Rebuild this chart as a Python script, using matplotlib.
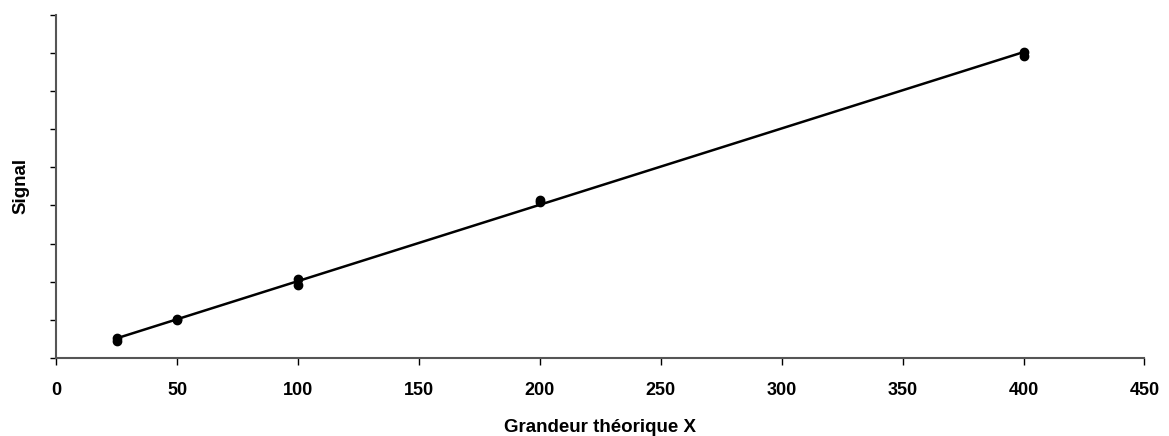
import numpy as np
from matplotlib import pyplot as plt

# Replicate measurements (arbitrary signal units)
x_vals = [25, 25, 50, 50, 100, 100, 200, 200, 400, 400]
signal = [0.45, 0.52, 0.99, 1.03, 1.92, 2.06, 4.10, 4.14, 7.93, 8.03]

x_ticks = [0, 50, 100, 150, 200, 250, 300, 350, 400, 450]
y_ticks = list(range(0, 10))


def main():
    plt.rcParams["font.family"] = ["Liberation Sans", "DejaVu Sans"]
    fig = plt.figure(figsize=(11.69, 4.36), dpi=100)
    ax = fig.add_axes([0.048, 0.179, 0.931, 0.787])

    # Linear trend line over the measured range
    coef = np.polyfit(x_vals, signal, 1)
    xs = np.array([min(x_vals), max(x_vals)])
    ax.plot(xs, np.polyval(coef, xs), color="black", linewidth=1.8, zorder=2)

    ax.plot(x_vals, signal, "o", color="black", markersize=6, zorder=3)

    ax.set_xlim(0, 450)
    ax.set_ylim(0, 9)
    ax.set_xticks(x_ticks)
    ax.set_yticks(y_ticks)
    ax.set_yticklabels([])
    ax.tick_params(axis="x", direction="out", length=5, width=1, labelsize=13, pad=12)
    ax.tick_params(axis="y", direction="out", length=4, width=1)
    for lbl in ax.get_xticklabels():
        lbl.set_fontweight("bold")

    for side in ["top", "right"]:
        ax.spines[side].set_visible(False)
    for side in ["left", "bottom"]:
        ax.spines[side].set_color("#555555")
        ax.spines[side].set_linewidth(1.5)

    ax.set_xlabel("Grandeur théorique X", fontsize=13.5, fontweight="bold", labelpad=15)
    ax.set_ylabel("Signal", fontsize=13.5, fontweight="bold", labelpad=12)

    fig.savefig("out.png", dpi=100)


if __name__ == "__main__":
    main()
